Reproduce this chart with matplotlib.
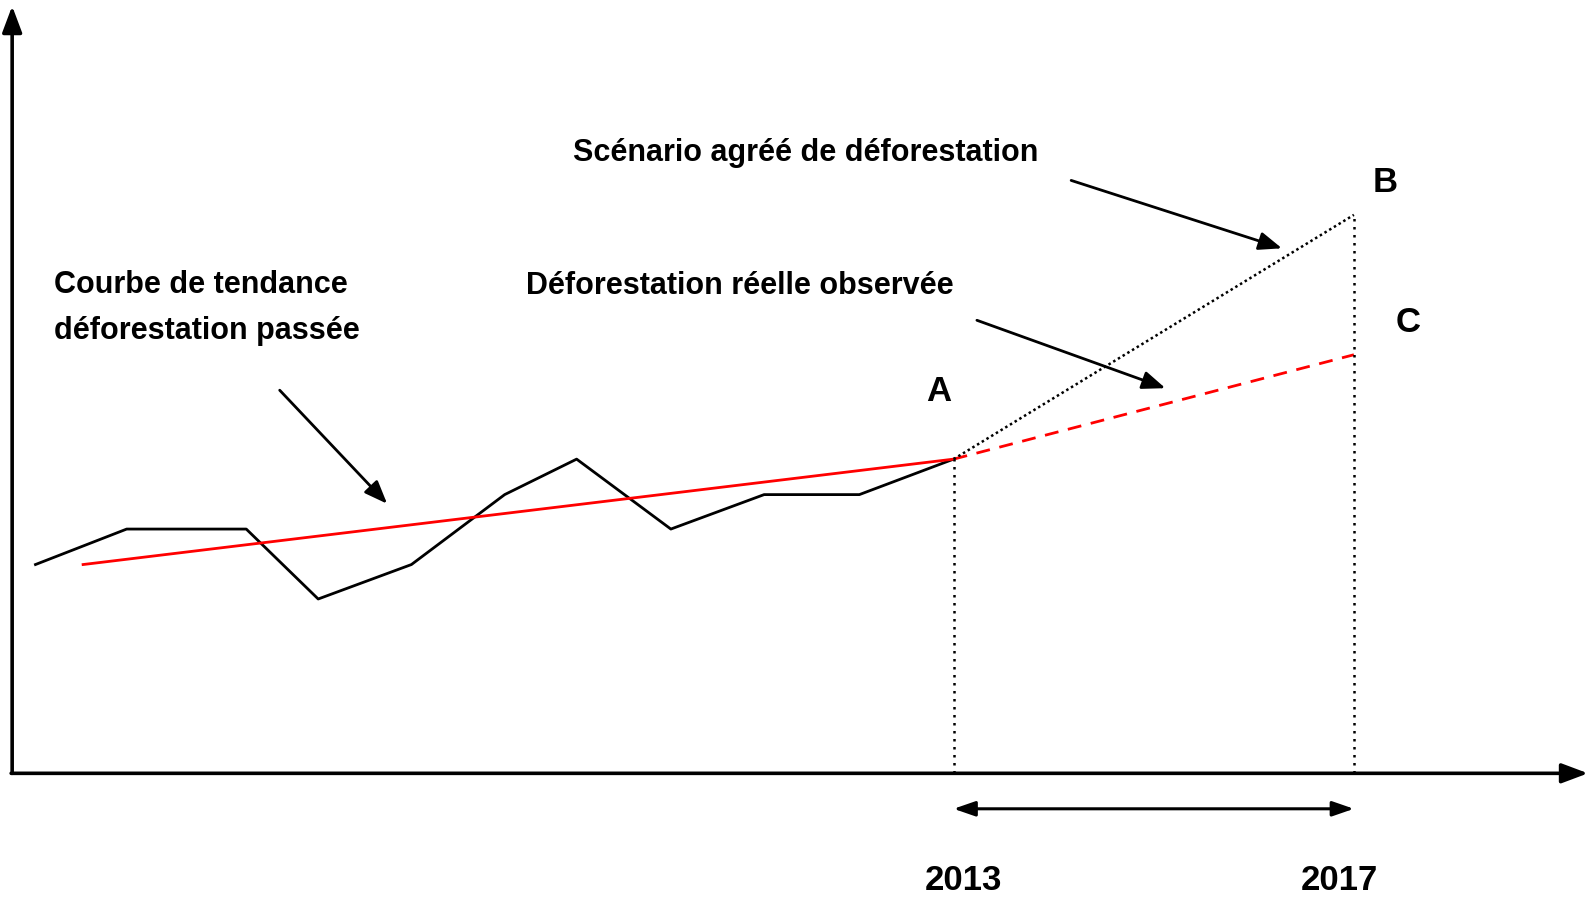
import matplotlib
matplotlib.use("Agg")
import matplotlib.pyplot as plt

# schematic units: origin of the axes at (0, 0), arbitrary scale
obs_x = [23, 113, 231, 302, 394, 486, 557, 650, 742, 836, 929]
obs_y = [206, 241, 241, 172, 206, 275, 310, 241, 275, 275, 310]

trend_x = [70, 929]
trend_y = [206, 310]

real_x = [929, 1324]      # déforestation réelle observée (dashed red)
real_y = [310, 413]

scen_x = [929, 1324]      # scénario agréé (dotted)
scen_y = [310, 551]

year_x = [929, 1324]
year_labels = ["2013", "2017"]

FONT = ["Liberation Sans", "DejaVu Sans"]

fig = plt.figure(figsize=(15.89, 8.99), dpi=100)
ax = fig.add_axes([0, 0, 1, 1])
ax.set_xlim(-12, 1556)
ax.set_ylim(-124, 763)
ax.axis("off")

# axes with arrows
axarrow = dict(arrowstyle="-|>,head_length=1.6,head_width=0.6",
               lw=2.6, color="black", shrinkA=0, shrinkB=0)
ax.annotate("", xy=(0, 757), xytext=(0, 0), arrowprops=axarrow)
ax.annotate("", xy=(1555, 0), xytext=(-1, 0), arrowprops=axarrow)

# curves
ax.plot(obs_x, obs_y, color="black", lw=2)
ax.plot(trend_x, trend_y, color="#ff0000", lw=2)
ax.plot(real_x, real_y, color="#ff0000", lw=2, dashes=(5, 3.5))
ax.plot(scen_x, scen_y, color="black", lw=1.8, linestyle=(0, (1, 1.2)))
ax.plot([year_x[0], year_x[0]], [0, scen_y[0]], color="black", lw=1.8,
        linestyle=(0, (1, 2.2)))
ax.plot([year_x[1], year_x[1]], [0, scen_y[1]], color="black", lw=1.8,
        linestyle=(0, (1, 2.2)))

# period arrow
ax.annotate("", xy=(year_x[1], -35), xytext=(year_x[0], -35),
            arrowprops=dict(arrowstyle="<|-|>,head_length=1.3,head_width=0.45",
                            lw=2.2, color="black", shrinkA=0, shrinkB=0))
for xv, lab in zip(year_x, year_labels):
    ax.text(xv + (10 if lab == "2013" else -14), -106, lab, ha="center",
            va="center", fontsize=25, fontweight="bold", family=FONT)

# labels with pointing arrows
tkw = dict(fontsize=22, fontweight="bold", family=FONT, va="center",
           ha="left")
apr = dict(arrowstyle="-|>,head_length=1.4,head_width=0.55", lw=2,
           color="black", shrinkA=0, shrinkB=0)
ax.text(553, 612, "Scénario agréé de déforestation", **tkw)
ax.annotate("", xy=(1253, 518), xytext=(1045, 585), arrowprops=apr)

ax.text(507, 481, "Déforestation réelle observée", **tkw)
ax.annotate("", xy=(1138, 380), xytext=(952, 447), arrowprops=apr)

ax.text(41, 459, "Courbe de tendance\ndéforestation passée", linespacing=1.7,
        **tkw)
ax.annotate("", xy=(370, 266), xytext=(264, 378), arrowprops=apr)

lkw = dict(fontsize=25, fontweight="bold", family=FONT, ha="center",
           va="center")
ax.text(914, 377, "A", **lkw)
ax.text(1355, 583, "B", **lkw)
ax.text(1378, 445, "C", **lkw)

fig.savefig("out.png", dpi=100)
